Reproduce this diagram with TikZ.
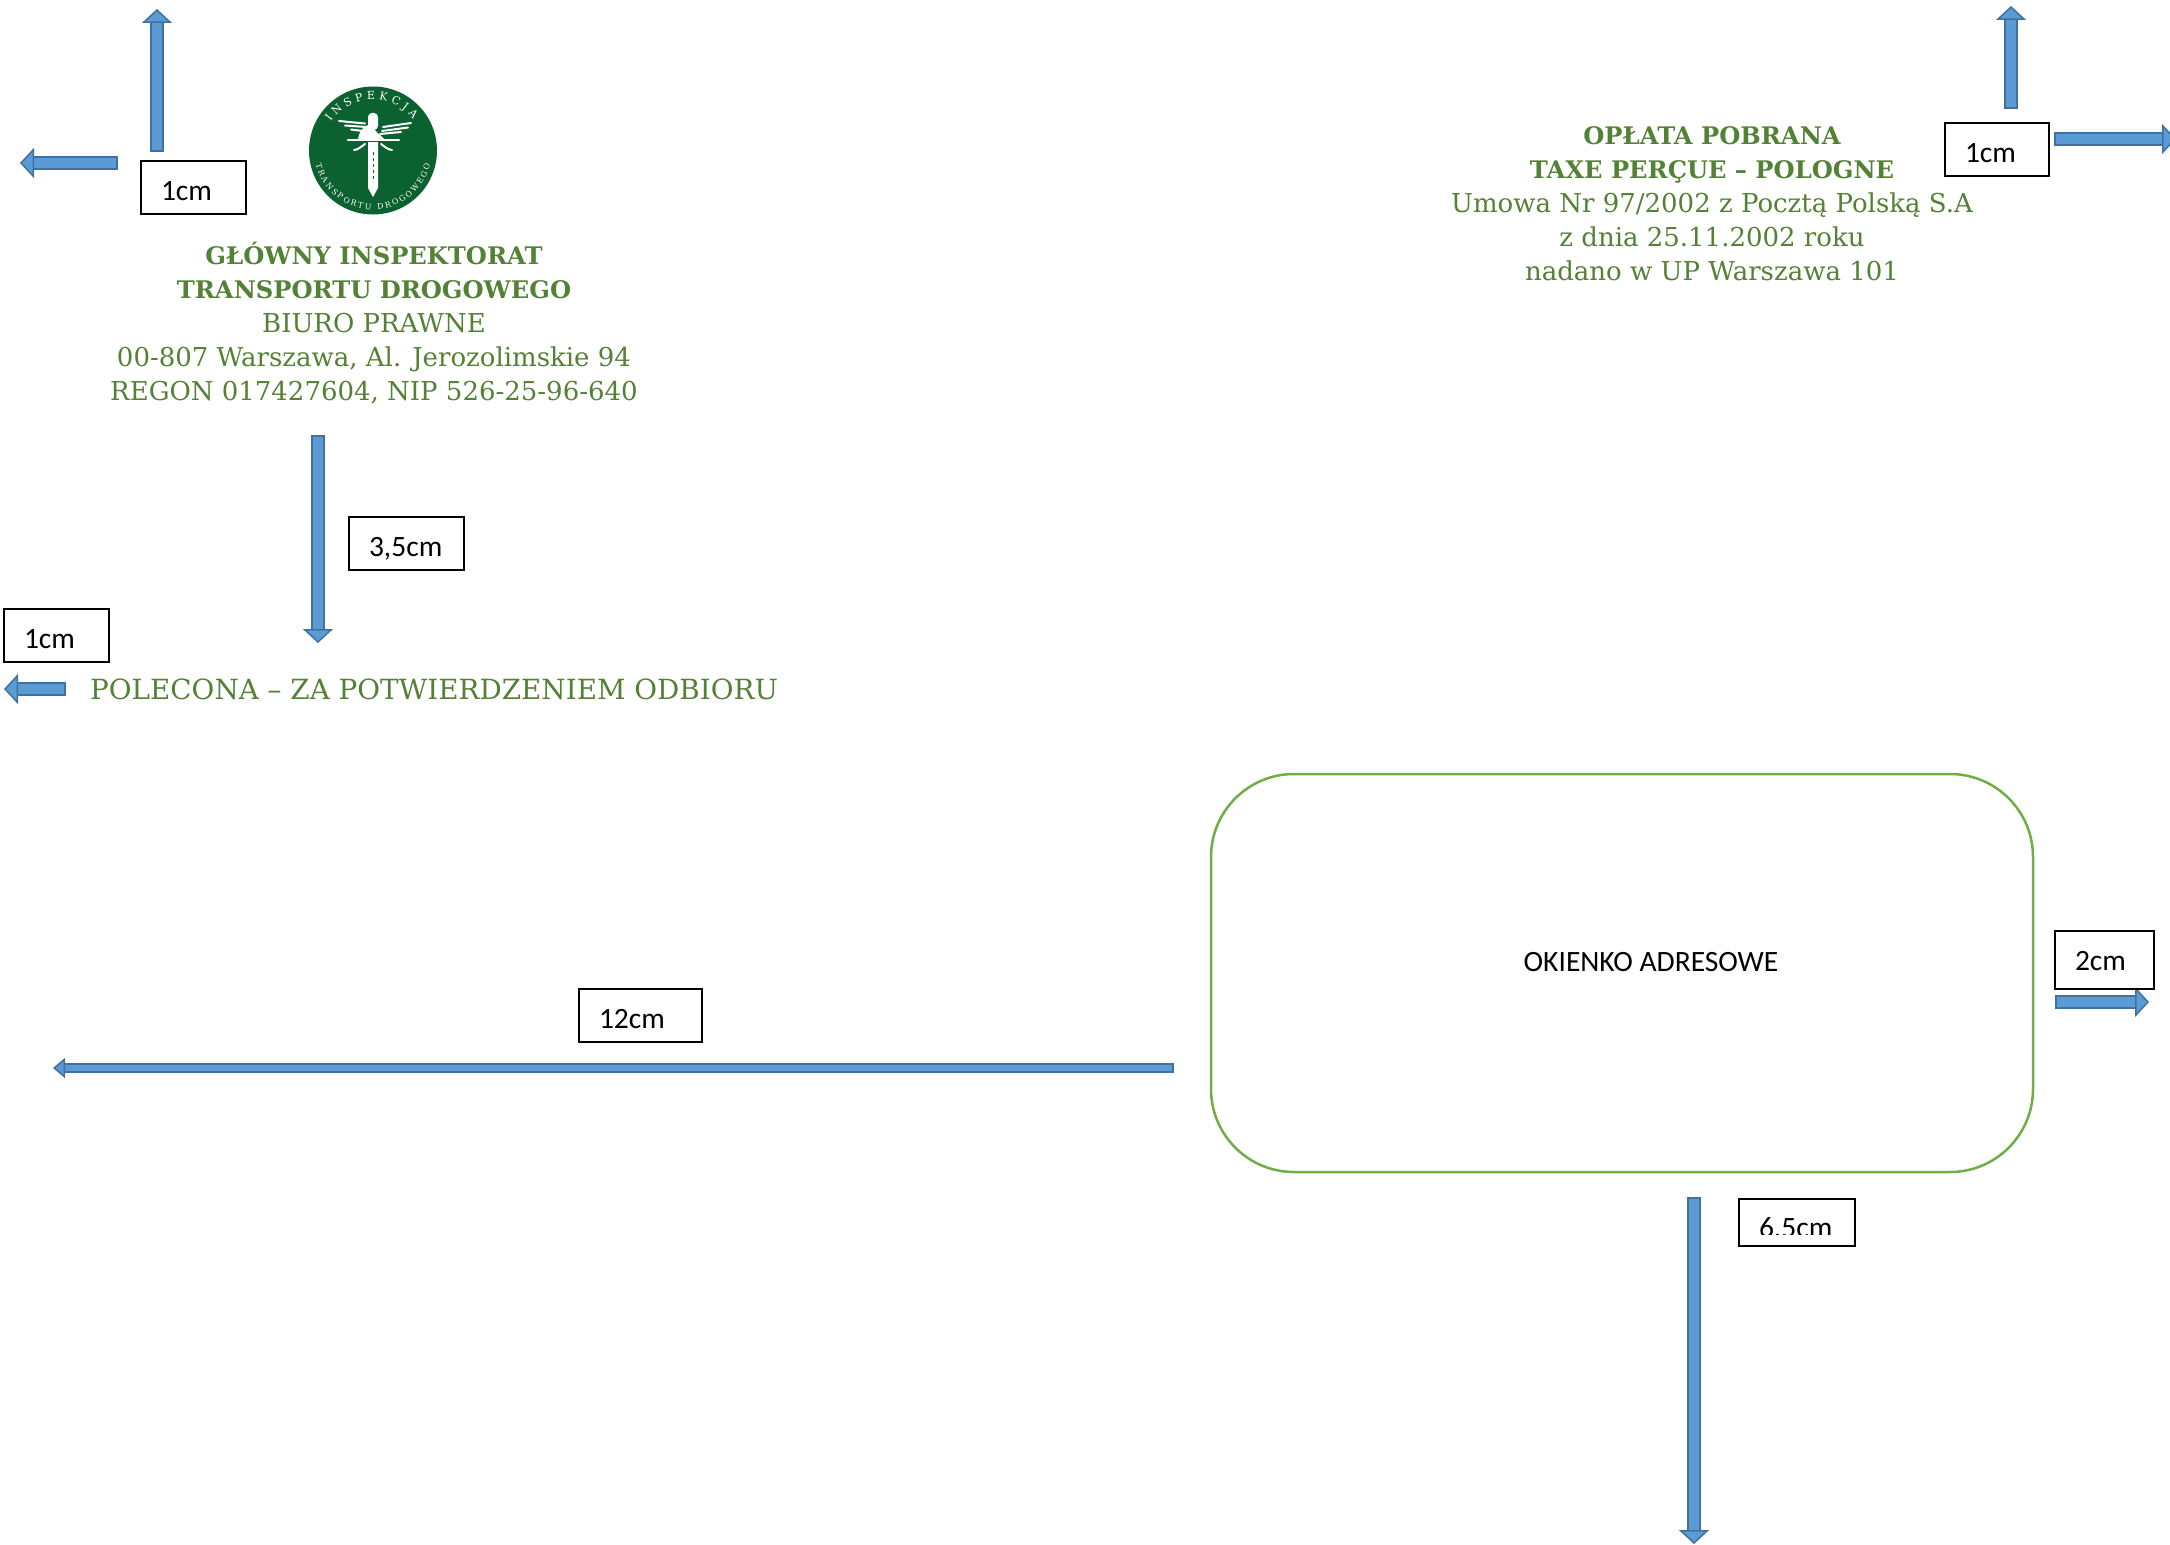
\documentclass[tikz,border=0pt]{standalone}
\usepackage{fontspec}
\setmainfont{DejaVu Serif}
\newfontfamily\labelfont{Carlito}
\usetikzlibrary{arrows.meta,decorations.text}

\definecolor{arrowfill}{HTML}{5B9BD5}
\definecolor{arrowedge}{HTML}{41719C}
\definecolor{textgreen}{HTML}{538135}
\definecolor{framegreen}{HTML}{70AD47}
\definecolor{logogreen}{HTML}{0B6130}

\newcommand{\headbold}[1]{{\fontsize{24.2}{34}\selectfont\bfseries #1}}

\tikzset{
  blockarrow/.style={draw=arrowedge, line width=2pt, double=arrowfill, double distance=10.5pt,
    {Bar[width=14.5pt,line width=2pt]}-{Triangle[length=14pt,width=30pt,fill=arrowfill,line width=1.5pt]}},
  thinarrow/.style={blockarrow, double distance=6pt,
    {Bar[width=10pt,line width=2pt]}-{Triangle[length=12pt,width=20pt,fill=arrowfill,line width=1.5pt]}},
  sizebox/.style={draw=black, fill=white, line width=2.5pt, outer sep=0pt, anchor=north west,
    font=\labelfont\fontsize{29.5}{32}\selectfont, align=left, inner xsep=20pt, inner ysep=11.5pt,
    text width=#1, text height=28pt, text depth=2pt},
  headtext/.style={text=textgreen, align=center, inner sep=0pt, anchor=north,
    font=\fontsize{26}{34}\selectfont},
  logoline/.style={draw=white, line width=2pt, line cap=round},
}

\begin{document}
\begin{tikzpicture}[x=1pt, y=-1pt]
  \useasboundingbox (0,0) rectangle (2170,1544);

  % arrow ends
  \coordinate (upAa) at (157,152);
  \coordinate (upAb) at (157,9);
  \coordinate (leftAa) at (118,163);
  \coordinate (leftAb) at (20,163);
  \coordinate (upBa) at (2011,109);
  \coordinate (upBb) at (2011,6);
  \coordinate (rightBa) at (2054,139);
  \coordinate (rightBb) at (2176,139);
  \coordinate (downCa) at (318,435);
  \coordinate (downCb) at (318,643);
  \coordinate (leftDa) at (66,689);
  \coordinate (leftDb) at (4,689);
  \coordinate (leftEa) at (1174,1068);
  \coordinate (leftEb) at (53,1068);
  \coordinate (rightFa) at (2055,1002);
  \coordinate (rightFb) at (2149,1002);
  \coordinate (downGa) at (1694,1197);
  \coordinate (downGb) at (1694,1544);

  \draw[blockarrow] (upAa) -- (upAb);
  \draw[blockarrow] (leftAa) -- (leftAb);
  \draw[blockarrow] (upBa) -- (upBb);
  \draw[blockarrow] (rightBa) -- (rightBb);
  \draw[blockarrow] (downCa) -- (downCb);
  \draw[blockarrow] (leftDa) -- (leftDb);
  \draw[thinarrow] (leftEa) -- (leftEb);
  \draw[blockarrow] (rightFa) -- (rightFb);
  \draw[blockarrow] (downGa) -- (downGb);

  % size labels
  \node[sizebox=65pt] at (141,161) (sizeA) {1cm};
  \node[sizebox=64pt] at (1945,123) (sizeB) {1cm};
  \node[sizebox=75pt] at (349,517) (sizeC) {3,5cm};
  \node[sizebox=65pt] at (4,609) (sizeD) {1cm};
  \node[sizebox=83pt] at (579,989) (sizeE) {12cm};
  \node[sizebox=59pt, inner ysep=13pt, text height=26pt, text depth=6pt] at (2055,931) (sizeF) {2cm};
  \draw[draw=black, fill=white, line width=2.5pt] (1739,1199) rectangle (1855,1246);
  \begin{scope}
    \clip (1739,1199) rectangle (1855,1234);
    \node[sizebox=76pt, draw=none, fill=none, inner ysep=8pt, text height=30pt, text depth=1pt] at (1739,1199) (sizeG) {6,5cm};
  \end{scope}

  % address window
  \node[draw=framegreen, line width=2.5pt, rounded corners=83pt, outer sep=0pt,
    minimum width=822pt, minimum height=398pt] at (1622,973) (window) {};
  \node[font=\labelfont\fontsize{29.5}{32}\selectfont, inner sep=0pt] at (1651,962) (windowtext) {OKIENKO ADRESOWE};

  % texts
  \node[headtext] at (374,242) (sender) {\headbold{GŁÓWNY INSPEKTORAT}\\\headbold{TRANSPORTU DROGOWEGO}\\BIURO PRAWNE\\00-807 Warszawa, Al. Jerozolimskie 94\\REGON 017427604, NIP 526-25-96-640};
  \node[headtext] at (1712,126) (postage) {\headbold{OPŁATA POBRANA}\\\headbold{TAXE PERÇUE – POLOGNE}\\Umowa Nr 97/2002 z Pocztą Polską S.A\\z dnia 25.11.2002 roku\\nadano w UP Warszawa 101};
  \node[headtext, font=\fontsize{27.8}{34}\selectfont, anchor=base west] at (90,699) (registered) {POLECONA – ZA POTWIERDZENIEM ODBIORU};

  % logo
  \node[circle, fill=logogreen, minimum size=128pt, inner sep=0pt] at (373,150.5) (logo) {};
  \fill[white] (358,139) .. controls (360,128) and (366,125) .. (372,124) -- (372,139) -- cycle;
  \fill[white] (372,124) .. controls (374,132) and (380,134) .. (384,139) -- (372,139) -- cycle;
  \fill[white, rounded corners=4pt] (368,113) rectangle (378,130);
  \fill[white] (368,142) -- (378,142) -- (378,188) -- (373,197) -- (368,188) -- cycle;
  \draw[logogreen, line width=0.8pt, dashed] (373,152) -- (373,182);
  \draw[logoline, line width=2.5pt] (348,140) -- (399,140);
  \draw[logoline] (354,150) .. controls (358,150) and (362,146) .. (365,144);
  \draw[logoline] (392,150) .. controls (388,150) and (384,146) .. (381,144);
  \draw[logoline] (339,121) -- (365,123.5);
  \draw[logoline] (345,125.5) -- (366,127);
  \draw[logoline] (351,129.5) -- (363,131);
  \draw[logoline] (411,123) -- (383,127);
  \draw[logoline] (408,127.5) -- (382,131);
  \draw[logoline] (401,132) -- (380,134);
  \path[decorate, decoration={text along path, text align={fit to path},
      text={|\color{white}\fontsize{11}{12}\selectfont|INSPEKCJA}}]
    (logo.center) ++(146:51pt) arc[start angle=146, end angle=38, radius=51pt];
  \path[decorate, decoration={text along path, text align={fit to path},
      text={|\color{white}\fontsize{7.8}{10}\selectfont|TRANSPORTU DROGOWEGO}}]
    (logo.center) ++(194:59pt) arc[start angle=194, end angle=346, radius=59pt];
\end{tikzpicture}
\end{document}
